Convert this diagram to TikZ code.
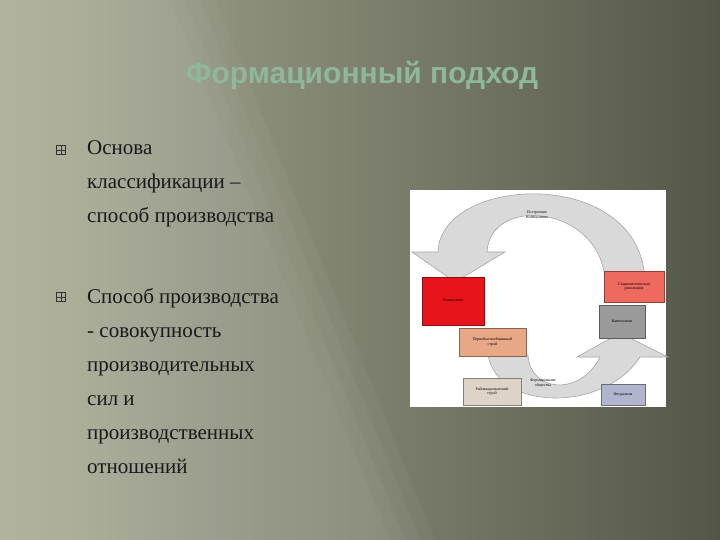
\documentclass[tikz,border=0pt]{standalone}
\usepackage{fontspec}
\setmainfont{Liberation Serif}
\newfontfamily\titlefont{Liberation Sans}
\definecolor{bgl}{RGB}{168,171,148}
\definecolor{bgd}{RGB}{84,87,72}
\definecolor{ttl}{RGB}{143,184,154}
\definecolor{ck}{RGB}{232,20,27}
\definecolor{cp}{RGB}{232,168,136}
\definecolor{cr}{RGB}{221,211,200}
\definecolor{cs}{RGB}{238,106,94}
\definecolor{cc}{RGB}{154,154,154}
\definecolor{cf}{RGB}{176,180,204}
\begin{document}
\begin{tikzpicture}[x=1pt,y=-1pt,
  bx/.style={draw=#1!60!black,fill=#1,line width=0.6pt,inner sep=0pt},
  tiny/.style={font=\fontsize{4}{4.5}\selectfont,align=center,text=black},
  arr/.style={fill=gray!30,draw=gray!70,line width=0.6pt},
  body/.style={anchor=north west,align=left,font=\fontsize{21}{34}\selectfont,text=black!90,inner sep=0pt}]
\useasboundingbox (0,0) rectangle (720,540);
\shade[left color=bgl,right color=bgd] (0,0) rectangle (720,540);
\foreach \d in {0,15,30,45}{
  \fill[white,opacity=0.035] (0,0) -- (170+\d,0) -- (390+\d,540) -- (0,540) -- cycle;}
\node[font=\titlefont\bfseries\fontsize{30}{30}\selectfont,text=ttl] (title) at (362,75) {Формационный подход};
% bullets
\foreach \n/\y in {b1/150,b2/297}{
  \node[draw=black!80,line width=0.5pt,minimum size=9pt,inner sep=0pt] (\n) at (61,\y) {};
  \draw[black!80,line width=0.4pt] (\n.north) -- (\n.south) (\n.west) -- (\n.east);}
\node[body] (t1) at (87,140) {Основа\\классификации –\\способ производства};
\node[body] (t2) at (87,288) {Способ производства\\- совокупность\\производительных\\сил и\\производственных\\отношений};
% diagram
\fill[white] (410,190) rectangle (666,407);
\path[arr] (438,252) .. controls (440,175) and (640,165) .. (645,280) -- (605,280)
  .. controls (600,205) and (490,195) .. (487,252) -- (505,252) -- (455,282) -- (412,252) -- cycle;
\path[arr] (488,355) .. controls (498,412) and (605,412) .. (640,357) -- (668,357) -- (620,333) -- (577,357) -- (600,357)
  .. controls (580,397) and (530,392) .. (528,355) -- cycle;
\node[tiny] (l1) at (537,215) {Построение\\Коммунизма};
\node[tiny] (l2) at (543,383) {Формирование\\общества};
\node[bx=ck,minimum width=62pt,minimum height=48pt,tiny] (k) at (453,301) {Коммунизм};
\node[bx=cp,minimum width=67pt,minimum height=28pt,tiny] (p) at (492.5,342) {Первобытнообщинный\\строй};
\node[bx=cr,minimum width=58pt,minimum height=27pt,tiny] (r) at (492,391.5) {Рабовладельческий\\строй};
\node[bx=cs,minimum width=60pt,minimum height=31pt,tiny] (s) at (634,286.5) {Социалистическая\\революция};
\node[bx=cc,minimum width=46pt,minimum height=33pt,tiny] (c) at (622,321.5) {Капитализм};
\node[bx=cf,minimum width=44pt,minimum height=21pt,tiny] (f) at (623,394.5) {Феодализм};
\end{tikzpicture}
\end{document}
